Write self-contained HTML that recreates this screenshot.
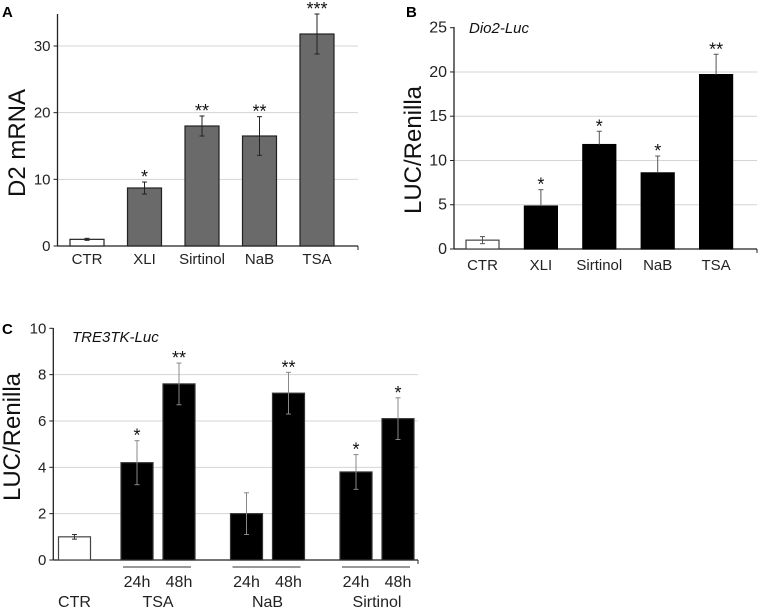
<!DOCTYPE html>
<html><head><meta charset="utf-8">
<style>
html,body{margin:0;padding:0;background:#fff;}
svg{display:block;font-family:"Liberation Sans",Arial,sans-serif;}
</style></head>
<body>
<svg id="fig" width="760" height="610" viewBox="0 0 760 610">
  <text x="2" y="17" font-size="15" font-weight="bold">A</text>
  <text x="406" y="17" font-size="15" font-weight="bold">B</text>
  <text x="2" y="334" font-size="15" font-weight="bold">C</text>
  <text transform="translate(25,143) rotate(-90)" text-anchor="middle" font-size="24" fill="#111">D2 mRNA</text>
  <text transform="translate(421,150) rotate(-90)" text-anchor="middle" font-size="24" fill="#111">LUC/Renilla</text>
  <text transform="translate(20,437) rotate(-90)" text-anchor="middle" font-size="24" fill="#111">LUC/Renilla</text>
  <text x="469" y="33" font-size="15" font-style="italic" fill="#111">Dio2-Luc</text>
  <text x="72" y="342" font-size="15" font-style="italic" fill="#111">TRE3TK-Luc</text>
</svg>
<script>
// Panel A data
const catsA = ["CTR","XLI","Sirtinol","NaB","TSA"];
const valsA = [1, 8.7, 18, 16.5, 31.8];
const errsA = [0.15, 0.9, 1.5, 2.9, 3.0];
const starsA = ["", "*", "**", "**", "***"];
const ticksA = [0, 10, 20, 30];
// Panel B data
const catsB = ["CTR","XLI","Sirtinol","NaB","TSA"];
const valsB = [1, 4.85, 11.8, 8.6, 19.7];
const errsB = [0.4, 1.85, 1.5, 1.9, 2.3];
const starsB = ["", "*", "*", "*", "**"];
const ticksB = [0, 5, 10, 15, 20, 25];
// Panel C data
const groupsC = ["TSA","NaB","Sirtinol"];
const hoursC = ["24h","48h"];
const ctrC = 1, ctrErrC = 0.1;
const valsC = [4.2, 7.6, 2.0, 7.2, 3.8, 6.1];
const errsC = [0.95, 0.9, 0.9, 0.9, 0.75, 0.9];
const starsC = ["*", "**", "", "**", "*", "*"];
const ticksC = [0, 2, 4, 6, 8, 10];

const svg = document.getElementById('fig');
const NS = 'http://www.w3.org/2000/svg';
function mk(tag, attrs, txt){
  const e = document.createElementNS(NS, tag);
  for (const k in attrs) e.setAttribute(k, attrs[k]);
  if (txt !== undefined) e.textContent = txt;
  svg.appendChild(e);
  return e;
}

function panel(p){
  const y = v => p.yBase - (v / p.maxV) * (p.yBase - p.yTop);
  p.ticks.forEach(t => {
    if (t > 0 && t >= p.gridFrom && t <= p.gridTo) {
      const g = mk('line', {x1:p.x0, x2:p.xEnd, y1:y(t), y2:y(t), stroke:'#d4d4d4', 'stroke-width':1});
      
      
    }
    const tk = mk('line', {x1:p.x0-4, x2:p.x0, y1:y(t), y2:y(t), stroke:'#222', 'stroke-width':1});
    
    
    const lb = mk('text', {x:p.x0-7, y:y(t)+5, 'text-anchor':'end', 'font-size':p.tickFont, fill:'#222'}, String(t));
    
    
  });
  const ya = mk('line', {x1:p.x0, x2:p.x0, y1:p.axisTop, y2:p.yBase, stroke:'#222', 'stroke-width':1.3});
  
  
  const xa = mk('line', {x1:p.x0, x2:p.xEnd, y1:p.yBase, y2:p.yBase, stroke:'#222', 'stroke-width':1.3});
  
  
  const xt = mk('line', {x1:p.xEnd, x2:p.xEnd, y1:p.yBase, y2:p.yBase+4, stroke:'#222', 'stroke-width':1});
  
  
  return y;
}

function bar(name, cx, w, v, err, y, fill, stroke, errColor, errDown, star){
  const top = y(v), base = y(0);
  const r = mk('rect', {x:cx-w/2, y:top, width:w, height:base-top, fill:fill, stroke:stroke, 'stroke-width':1.2});
  
  
  const eTop = y(v+err), eBot = errDown ? y(v-err) : top;
  const el = mk('line', {x1:cx, x2:cx, y1:eTop, y2:eBot, stroke:errColor, 'stroke-width':1});
  
  
  const c1 = mk('line', {x1:cx-2.5, x2:cx+2.5, y1:eTop, y2:eTop, stroke:errColor, 'stroke-width':1});
  
  
  if (errDown) {
    const c2 = mk('line', {x1:cx-2.5, x2:cx+2.5, y1:eBot, y2:eBot, stroke:errColor, 'stroke-width':1});
    
    
  }
  if (star) {
    const s = mk('text', {x:cx, y:eTop+1, 'text-anchor':'middle', 'font-size':18, fill:'#111'}, star);
    
    
  }
}

// Panel A
const yA = panel({name:'panel-a', x0:57.5, xEnd:358, yBase:246, yTop:46, maxV:30, ticks:ticksA, gridFrom:10, gridTo:30, axisTop:14, tickFont:15});
catsA.forEach((c,i) => {
  const cx = 87 + i*57.5;
  const ctr = i === 0;
  bar('panel-a-bar-' + c.toLowerCase(), cx, 34, valsA[i], errsA[i], yA, ctr ? '#fff' : '#6a6a6a', '#222', '#222', true, starsA[i]);
  const t = mk('text', {x:cx, y:264, 'text-anchor':'middle', 'font-size':15, fill:'#222'}, c);
  
  
});

// Panel B
const yB = panel({name:'panel-b', x0:454, xEnd:757, yBase:249, yTop:27.7, maxV:25, ticks:ticksB, gridFrom:5, gridTo:20, axisTop:27, tickFont:16});
catsB.forEach((c,i) => {
  const cx = 482.5 + i*58.4;
  const ctr = i === 0;
  bar('panel-b-bar-' + c.toLowerCase(), cx, 33, valsB[i], errsB[i], yB, ctr ? '#fff' : '#000', ctr ? '#444' : '#000', '#555', ctr, starsB[i]);
  const t = mk('text', {x:cx, y:270, 'text-anchor':'middle', 'font-size':15, fill:'#222'}, c);
  
  
});

// Panel C
const yC = panel({name:'panel-c', x0:53.3, xEnd:418, yBase:560, yTop:328.3, maxV:10, ticks:ticksC, gridFrom:2, gridTo:8, axisTop:328, tickFont:15});
bar('panel-c-bar-ctr', 74.5, 32, ctrC, ctrErrC, yC, '#fff', '#444', '#333', true, '');
const ct = mk('text', {x:74.5, y:607, 'text-anchor':'middle', 'font-size':16, fill:'#222'}, 'CTR');


groupsC.forEach((g,gi) => {
  const base = 137 + gi*109.5;
  hoursC.forEach((h,hi) => {
    const k = gi*2 + hi;
    const cx = base + hi*42;
    bar('panel-c-bar-' + g.toLowerCase() + '-' + h, cx, 32, valsC[k], errsC[k], yC, '#000', '#333', '#888', true, starsC[k]);
    const t = mk('text', {x:cx, y:587, 'text-anchor':'middle', 'font-size':16, fill:'#222'}, h);
    
    
  });
  const ln = mk('line', {x1:base-14, x2:base+42+12, y1:567, y2:567, stroke:'#333', 'stroke-width':1});
  
  
  const gt = mk('text', {x:base+21, y:607, 'text-anchor':'middle', 'font-size':16, fill:'#222'}, g);
  
  
});
</script>
</body></html>
